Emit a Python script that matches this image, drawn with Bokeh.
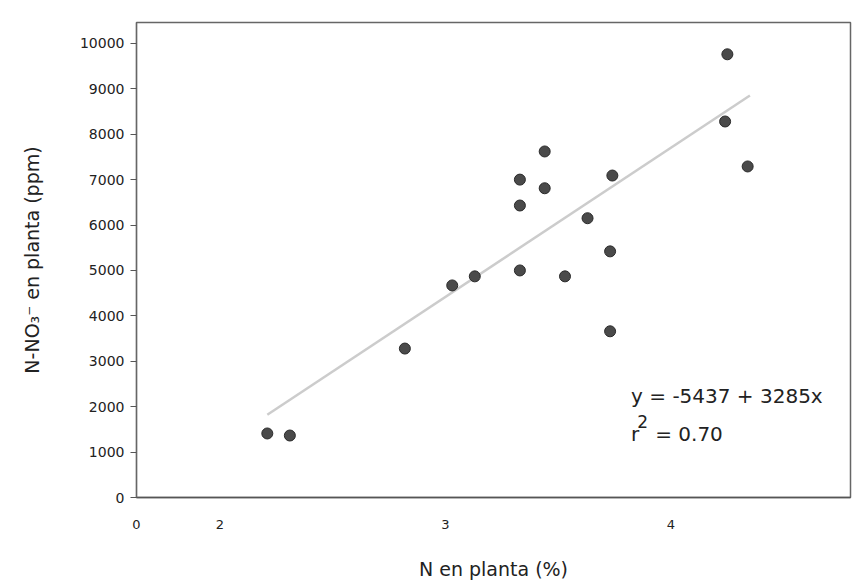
from bokeh.plotting import figure
from bokeh.models import Range1d, FixedTicker, Label, ColumnDataSource
from bokeh.embed import file_html
from bokeh.resources import INLINE

# ---- data ----
n_planta = [2.21, 2.31, 2.82, 3.03, 3.13, 3.33, 3.33, 3.33, 3.44, 3.44,
            3.53, 3.63, 3.73, 3.74, 3.73, 4.25, 4.24, 4.34]
no3_planta = [1410, 1365, 3280, 4670, 4870, 5000, 6430, 7000, 6810, 7620,
              4870, 6150, 5420, 7090, 3660, 9760, 8280, 7290]

fit_intercept = -5437
fit_slope = 3285
fit_x = [2.21, 4.35]
fit_y = [fit_intercept + fit_slope * v for v in fit_x]

x_tick_values = [2, 3, 4]
x_tick_labels = ["2", "3", "4"]
x_break_label = "0"
y_tick_values = [0, 1000, 2000, 3000, 4000, 5000, 6000, 7000, 8000, 9000, 10000]

eq_line1 = "y = -5437 + 3285x"
eq_r = "r"
eq_sq = "2"
eq_r2 = "= 0.70"
x_label = "N en planta (%)"
y_label = "N-NO\u2083\u207b en planta (ppm)"

# ---- layout ----
X0 = 1.63  # left edge of the (broken) x axis, where "0" is shown
p = figure(width=858, height=583, output_backend="svg", toolbar_location=None,
           x_range=Range1d(X0, 4.796), y_range=Range1d(0, 10460),
           min_border_left=136, min_border_right=8, min_border_top=22,
           min_border_bottom=86)
p.background_fill_color = "white"
p.border_fill_color = "white"
p.grid.visible = False
p.outline_line_color = "#666666"
p.outline_line_width = 1.5

FONT = "DejaVu Sans"

p.xaxis.ticker = FixedTicker(ticks=[X0] + x_tick_values)
overrides = {X0: x_break_label}
for v, t in zip(x_tick_values, x_tick_labels):
    overrides[v] = t
p.xaxis.major_label_overrides = overrides
p.xaxis.major_label_text_font = FONT
p.xaxis.major_label_text_font_size = "13px"
p.xaxis.major_label_text_color = "#222222"
p.xaxis.major_label_standoff = 22
p.xaxis.major_tick_out = 0
p.xaxis.major_tick_in = 0
p.xaxis.minor_tick_line_color = None
p.xaxis.axis_line_color = "#555555"
p.xaxis.axis_line_width = 1.5
p.xaxis.axis_label = x_label
p.xaxis.axis_label_text_font = FONT
p.xaxis.axis_label_text_font_size = "19px"
p.xaxis.axis_label_text_font_style = "normal"
p.xaxis.axis_label_text_color = "#222222"
p.xaxis.axis_label_standoff = 26

p.yaxis.ticker = FixedTicker(ticks=y_tick_values)
p.yaxis.major_label_text_font = FONT
p.yaxis.major_label_text_font_size = "14px"
p.yaxis.major_label_text_color = "#222222"
p.yaxis.major_label_standoff = 6
p.yaxis.major_tick_out = 6
p.yaxis.major_tick_in = 0
p.yaxis.major_tick_line_color = "#555555"
p.yaxis.minor_tick_line_color = None
p.yaxis.axis_line_color = "#666666"
p.yaxis.axis_line_width = 1.2
p.yaxis.axis_label = y_label
p.yaxis.axis_label_text_font = FONT
p.yaxis.axis_label_text_font_size = "19px"
p.yaxis.axis_label_text_font_style = "normal"
p.yaxis.axis_label_text_color = "#222222"
p.yaxis.axis_label_standoff = 34

# regression line
p.line(fit_x, fit_y, line_color="#cccccc", line_width=2.5)

# points
src = ColumnDataSource(dict(x=n_planta, y=no3_planta))
p.scatter("x", "y", source=src, size=11, fill_color="#4a4a4a",
          line_color="#2a2a2a", line_width=1)

# equation text
p.add_layout(Label(x=3.823, y=2230, text=eq_line1, text_font=FONT,
                   text_font_size="20px", text_color="#222222",
                   text_align="left", text_baseline="middle"))
p.add_layout(Label(x=3.823, y=1400, text=eq_r, text_font=FONT,
                   text_font_size="20px", text_color="#222222",
                   text_align="left", text_baseline="middle"))
p.add_layout(Label(x=3.850, y=1680, text=eq_sq, text_font=FONT,
                   text_font_size="17px", text_color="#222222",
                   text_align="left", text_baseline="middle"))
p.add_layout(Label(x=3.930, y=1400, text=eq_r2, text_font=FONT,
                   text_font_size="20px", text_color="#222222",
                   text_align="left", text_baseline="middle"))

open("out.html", "w").write(file_html(p, INLINE))
